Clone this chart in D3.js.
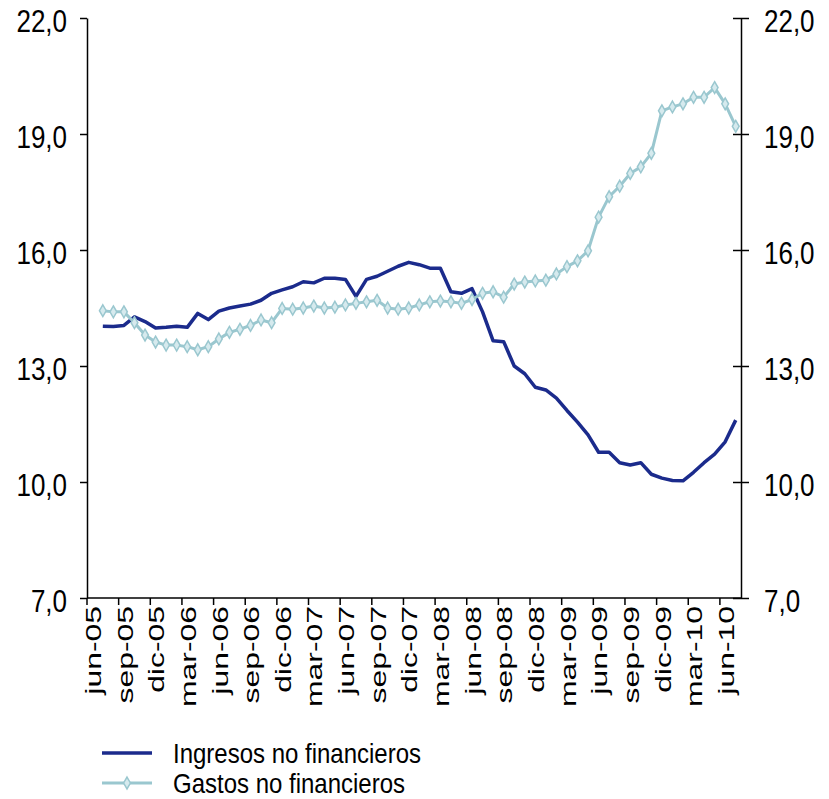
<!DOCTYPE html>
<html>
<head>
<meta charset="utf-8">
<script src="https://cdn.jsdelivr.net/npm/d3@7"></script>
<style>
  body { margin: 0; background: #fff; }
  text { font-family: "Liberation Sans", Arial, sans-serif; fill: #000; }
</style>
</head>
<body>
<div id="chart"></div>
<script>
// Categories: one per month, jun-05 .. jul-10
const meses = [
  "jun-05", "jul-05", "ago-05", "sep-05", "oct-05", "nov-05", "dic-05",
  "ene-06", "feb-06", "mar-06", "abr-06", "may-06", "jun-06", "jul-06", "ago-06", "sep-06", "oct-06", "nov-06", "dic-06",
  "ene-07", "feb-07", "mar-07", "abr-07", "may-07", "jun-07", "jul-07", "ago-07", "sep-07", "oct-07", "nov-07", "dic-07",
  "ene-08", "feb-08", "mar-08", "abr-08", "may-08", "jun-08", "jul-08", "ago-08", "sep-08", "oct-08", "nov-08", "dic-08",
  "ene-09", "feb-09", "mar-09", "abr-09", "may-09", "jun-09", "jul-09", "ago-09", "sep-09", "oct-09", "nov-09", "dic-09",
  "ene-10", "feb-10", "mar-10", "abr-10", "may-10", "jun-10", "jul-10"
];

// Tick labels shown on the x axis (every third month)
const etiquetas = [
  "jun-05", "sep-05", "dic-05", "mar-06", "jun-06", "sep-06", "dic-06",
  "mar-07", "jun-07", "sep-07", "dic-07", "mar-08", "jun-08", "sep-08",
  "dic-08", "mar-09", "jun-09", "sep-09", "dic-09", "mar-10", "jun-10"
];

// Series values (% of GDP)
const ingresos = [
  null, 14.03, 14.02, 14.05, 14.27, 14.15, 13.98, 14.0, 14.03, 14.0, 14.36,
  14.2, 14.42, 14.5, 14.55, 14.6, 14.7, 14.88, 14.97, 15.05, 15.18,
  15.15, 15.27, 15.27, 15.24, 14.8, 15.24, 15.32, 15.45, 15.58, 15.68,
  15.62, 15.53, 15.53, 14.92, 14.88, 15.0, 14.4, 13.65, 13.63, 13.0,
  12.8, 12.45, 12.38, 12.17, 11.85, 11.55, 11.22, 10.77, 10.77, 10.5,
  10.44, 10.5, 10.2, 10.1, 10.04, 10.03, 10.25, 10.5, 10.72, 11.04, 11.6
];
const gastos = [
  null, 14.43, 14.4, 14.4, 14.12, 13.8, 13.62, 13.54, 13.54, 13.5, 13.42,
  13.5, 13.7, 13.87, 13.95, 14.05, 14.19, 14.12, 14.49, 14.47, 14.5,
  14.55, 14.5, 14.52, 14.58, 14.62, 14.66, 14.7, 14.5, 14.47, 14.5,
  14.58, 14.66, 14.68, 14.66, 14.62, 14.72, 14.88, 14.92, 14.78, 15.12,
  15.17, 15.2, 15.22, 15.38, 15.57, 15.72, 15.98, 16.85, 17.38, 17.65,
  17.98, 18.15, 18.5, 19.6, 19.7, 19.78, 19.95, 19.95, 20.2, 19.78, 19.2
];

const yTicks = [7, 10, 13, 16, 19, 22];
const series = [
  { name: "Ingresos no financieros", values: ingresos, color: "#1b2b8c", marker: false },
  { name: "Gastos no financieros", values: gastos, color: "#9ac7cf", marker: true }
];

const W = 829, H = 799;
const mLeft = 87, mRight = 741, mTop = 18, mBottom = 598;

const svg = d3.select("#chart").append("svg")
  .attr("width", W)
  .attr("height", H);

// Scales
const xScale = d3.scaleBand().domain(meses).range([mLeft, mRight]).padding(0);
const yScale = d3.scaleLinear().domain([7, 22]).range([mBottom, mTop]);
const fmt = (d) => d3.format(".1f")(d).replace(".", ",");
const xc = (i) => xScale(meses[i]) + xScale.bandwidth() / 2;

// Left y axis
const yLeft = svg.append("g")
  .attr("transform", `translate(${mLeft},0)`)
  .call(d3.axisLeft(yScale).tickValues(yTicks).tickSize(7).tickSizeOuter(0).tickFormat(fmt));
yLeft.selectAll("text")
  .attr("x", -20)
  .attr("dy", "0.35em")
  .style("font-size", "26px")
  .attr("transform", "translate(0,3) scale(1,1.2)");

// Right y axis (ticks cross the line)
const yRight = svg.append("g")
  .attr("transform", `translate(${mRight},0)`)
  .call(d3.axisRight(yScale).tickValues(yTicks).tickSize(8).tickSizeOuter(0).tickFormat(fmt));
yRight.selectAll(".tick line").attr("x1", -8);
yRight.selectAll("text")
  .attr("x", 23)
  .attr("dy", "0.35em")
  .style("font-size", "26px")
  .attr("transform", "translate(0,3) scale(1,1.2)");

// Bottom x axis: ticks at category boundaries, labels at category centers
const xAxis = svg.append("g").attr("transform", `translate(0,${mBottom})`);
xAxis.append("line")
  .attr("x1", mLeft).attr("x2", mRight)
  .attr("stroke", "#000").attr("stroke-width", 1.5);
xAxis.selectAll(".xtick")
  .data(etiquetas)
  .enter()
  .append("line")
  .attr("class", "xtick")
  .attr("x1", (d) => xScale(d)).attr("x2", (d) => xScale(d))
  .attr("y1", 0).attr("y2", 7)
  .attr("stroke", "#000").attr("stroke-width", 1.5);
xAxis.selectAll(".xlabel")
  .data(etiquetas)
  .enter()
  .append("text")
  .attr("class", "xlabel")
  .attr("transform", (d) => `translate(${xScale(d) + xScale.bandwidth() / 2 + 1},8) rotate(-90) scale(1.45,1)`)
  .attr("text-anchor", "end")
  .attr("dy", "0.35em")
  .style("font-size", "22px")
  .text((d) => d);

svg.selectAll(".domain").attr("stroke", "#000").attr("stroke-width", 1.5);
svg.selectAll(".tick line").attr("stroke", "#000").attr("stroke-width", 1.5);

// Lines
const line = d3.line()
  .defined((d) => d != null)
  .x((d, i) => xc(i))
  .y((d) => yScale(d));

series.forEach((s) => {
  svg.append("path")
    .datum(s.values)
    .attr("fill", "none")
    .attr("stroke", s.color)
    .attr("stroke-width", s.marker ? 3 : 3.5)
    .attr("stroke-linejoin", "round")
    .attr("d", line);

  if (s.marker) {
    svg.selectAll(".marker")
      .data(s.values.map((v, i) => ({ v, i })).filter((d) => d.v != null))
      .enter()
      .append("path")
      .attr("class", "marker")
      .attr("d", d3.symbol().type(d3.symbolDiamond).size(40))
      .attr("transform", (d) => `translate(${xc(d.i)},${yScale(d.v)})`)
      .attr("fill", "#d6eaee")
      .attr("stroke", s.color)
      .attr("stroke-width", 1.5);
  }
});

// Legend
const legend = svg.append("g").attr("transform", "translate(102,753)");
series.forEach((s, k) => {
  const g = legend.append("g").attr("transform", `translate(0,${k * 30})`);
  g.append("line")
    .attr("x1", 0).attr("x2", 50)
    .attr("stroke", s.color)
    .attr("stroke-width", s.marker ? 3 : 3.5);
  if (s.marker) {
    g.append("path")
      .attr("d", d3.symbol().type(d3.symbolDiamond).size(40))
      .attr("transform", "translate(25,0)")
      .attr("fill", "#d6eaee")
      .attr("stroke", s.color)
      .attr("stroke-width", 1.5);
  }
  g.append("text")
    .attr("transform", "translate(71,0) scale(1,1.18)")
    .attr("dy", "0.35em")
    .style("font-size", "24px")
    .text(s.name);
});
</script>
</body>
</html>
